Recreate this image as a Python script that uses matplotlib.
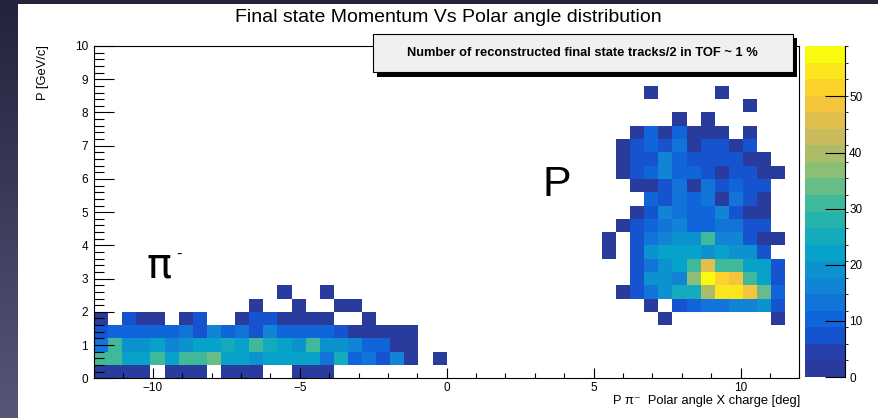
import numpy as np
import matplotlib.pyplot as plt
from matplotlib.colors import LinearSegmentedColormap, ListedColormap, BoundaryNorm
from matplotlib.patches import Rectangle

plt.rcParams['font.family'] = ['Liberation Sans', 'DejaVu Sans']

W, H = 879, 418

# binning of the 2D histogram
x_lo, x_hi, nx = -12.0, 12.0, 50
y_lo, y_hi, ny = 0.0, 10.0, 25
z_max = 59
n_contours = 20

# pi- entries: rows are momentum bins 0..6, columns are angle bins 0..24
pim_counts = [
    [1, 1, 1, 1, 0, 1, 1, 1, 0, 1, 1, 1, 0, 0, 1, 1, 1, 0, 0, 0, 0, 0, 0, 0, 0],
    [30, 30, 22, 21, 32, 21, 30, 30, 34, 22, 22, 19, 22, 22, 22, 21, 13, 24, 10, 13, 7, 16, 1, 0, 1],
    [13, 30, 19, 19, 22, 16, 19, 21, 21, 26, 22, 30, 26, 21, 19, 30, 19, 19, 16, 10, 10, 1, 1, 0, 0],
    [7, 10, 10, 10, 10, 10, 13, 7, 16, 10, 13, 7, 16, 10, 10, 10, 10, 7, 1, 1, 1, 1, 1, 0, 0],
    [1, 0, 7, 1, 1, 0, 1, 7, 0, 0, 1, 7, 7, 1, 1, 1, 1, 0, 0, 1, 0, 0, 0, 0, 0],
    [0, 0, 0, 0, 0, 0, 0, 0, 0, 0, 0, 1, 0, 0, 1, 0, 0, 1, 1, 0, 0, 0, 0, 0, 0],
    [0, 0, 0, 0, 0, 0, 0, 0, 0, 0, 0, 0, 0, 1, 0, 0, 1, 0, 0, 0, 0, 0, 0, 0, 0],
]
pim_row0, pim_col0 = 0, 0

# proton entries: rows are momentum bins 4..21, columns are angle bins 36..48
p_counts = [
    [0, 0, 0, 0, 1, 0, 0, 0, 0, 0, 0, 0, 1],
    [0, 0, 0, 1, 0, 7, 10, 13, 13, 16, 16, 19, 7],
    [0, 1, 7, 13, 19, 26, 26, 41, 55, 55, 49, 34, 10],
    [0, 0, 7, 19, 19, 16, 37, 59, 52, 49, 30, 22, 7],
    [0, 0, 7, 13, 19, 21, 30, 46, 30, 30, 22, 22, 7],
    [1, 0, 7, 19, 21, 22, 22, 19, 22, 19, 19, 7, 0],
    [1, 0, 7, 13, 16, 19, 19, 30, 16, 16, 7, 1, 1],
    [0, 1, 7, 10, 13, 16, 10, 10, 13, 13, 7, 7, 0],
    [0, 0, 1, 7, 16, 13, 10, 10, 16, 7, 1, 1, 0],
    [0, 0, 0, 10, 7, 13, 10, 13, 1, 13, 7, 1, 0],
    [0, 0, 1, 1, 7, 13, 1, 13, 7, 10, 7, 7, 0],
    [0, 1, 7, 10, 16, 10, 10, 7, 1, 7, 7, 1, 1],
    [0, 1, 7, 7, 16, 10, 7, 7, 7, 7, 1, 1, 0],
    [0, 1, 7, 10, 7, 13, 1, 7, 7, 1, 7, 0, 0],
    [0, 0, 1, 10, 1, 10, 1, 1, 1, 0, 1, 0, 0],
    [0, 0, 0, 0, 0, 1, 0, 1, 0, 0, 0, 0, 0],
    [0, 0, 0, 0, 0, 0, 0, 0, 0, 0, 1, 0, 0],
    [0, 0, 0, 1, 0, 0, 0, 0, 1, 0, 0, 0, 0],
]
p_row0, p_col0 = 4, 36

counts = np.zeros((ny, nx))
a = np.array(pim_counts)
counts[pim_row0:pim_row0 + a.shape[0], pim_col0:pim_col0 + a.shape[1]] = a
a = np.array(p_counts)
counts[p_row0:p_row0 + a.shape[0], p_col0:p_col0 + a.shape[1]] = a
counts = np.ma.masked_equal(counts, 0)

x_edges = np.linspace(x_lo, x_hi, nx + 1)
y_edges = np.linspace(y_lo, y_hi, ny + 1)

# ROOT kBird palette
bird_stops = [0.0, 0.125, 0.25, 0.375, 0.5, 0.625, 0.75, 0.875, 1.0]
bird_r = [0.2082, 0.0592, 0.0780, 0.0232, 0.1802, 0.5301, 0.8186, 0.9956, 0.9764]
bird_g = [0.1664, 0.3599, 0.5041, 0.6419, 0.7178, 0.7492, 0.7328, 0.7862, 0.9832]
bird_b = [0.5293, 0.8684, 0.8385, 0.7914, 0.6425, 0.4662, 0.3499, 0.1968, 0.0539]
bird = LinearSegmentedColormap.from_list(
    'bird', list(zip(bird_stops, zip(bird_r, bird_g, bird_b))))
band_colors = bird(np.arange(n_contours) / (n_contours - 1))
band_colors[0] = (0.16, 0.23, 0.61, 1.0)
cmap = ListedColormap(band_colors)
cmap.set_over(band_colors[-1])
norm = BoundaryNorm(np.linspace(0, z_max, n_contours + 1), n_contours)

fig = plt.figure(figsize=(W / 100, H / 100), dpi=100)

# dark window frame + white canvas
bg = fig.add_axes([0, 0, 1, 1])
grad = np.linspace(0, 1, 100)[:, None]
bg.imshow(grad, aspect='auto', extent=[0, 1, 0, 1], origin='upper',
          cmap=LinearSegmentedColormap.from_list('frame', ['#23233c', '#55557a']))
bg.add_patch(Rectangle((18 / W, 0), 1 - 18 / W, 1 - 4 / H, color='white', lw=0))
bg.set_xlim(0, 1)
bg.set_ylim(0, 1)
bg.axis('off')


def px(x0, y0, x1, y1):
    return [x0 / W, 1 - y1 / H, (x1 - x0) / W, (y1 - y0) / H]


ax = fig.add_axes(px(94, 46, 799.4, 378.3))
mesh = ax.pcolormesh(x_edges, y_edges, counts, cmap=cmap, norm=norm)
ax.set_xlim(x_lo, x_hi)
ax.set_ylim(y_lo, y_hi)
ax.set_xticks([-10, -5, 0, 5, 10])
ax.set_xticks(np.arange(-12, 13, 1), minor=True)
ax.set_yticks(np.arange(0, 11, 1))
ax.set_yticks(np.arange(0, 10.01, 0.2), minor=True)
ax.tick_params(axis='x', which='major', direction='in', length=7.5, width=0.8, labelsize=8.5, pad=2.5)
ax.tick_params(axis='x', which='minor', direction='in', length=3.6, width=0.8)
ax.tick_params(axis='y', which='major', direction='in', length=14.4, width=0.8, labelsize=8.5, pad=4.3)
ax.tick_params(axis='y', which='minor', direction='in', length=7.2, width=0.8)
for s in ax.spines.values():
    s.set_linewidth(0.8)

# palette axis
cax = fig.add_axes(px(805, 46, 845, 377))
cb = fig.colorbar(mesh, cax=cax, ticks=range(0, 60, 10))
cb.outline.set_visible(False)
cax.plot([1, 1], [0, 1], transform=cax.transAxes, color='black', lw=0.8, clip_on=False)
cax.yaxis.set_ticks_position('right')
cax.tick_params(direction='in', length=14.4, width=0.8, labelsize=8.5, pad=3)

fig.text(448 / W, 1 - 18 / H, 'Final state Momentum Vs Polar angle distribution',
         ha='center', va='center', fontsize=14)
fig.text(43 / W, 1 - 45 / H, 'P [GeV/c]', rotation=90, ha='center', va='top', fontsize=9.3)
fig.text(800 / W, 1 - 401 / H, 'P \u03c0\u207b  Polar angle X charge [deg]',
         ha='right', va='center', fontsize=9.3)

# info box with drop shadow, drawn above the frame
fig.add_artist(Rectangle((377 / W, 1 - 76.5 / H), 420 / W, 38 / H, transform=fig.transFigure,
                         facecolor='black', lw=0, zorder=5))
fig.add_artist(Rectangle((373 / W, 1 - 72 / H), 420 / W, 38 / H, transform=fig.transFigure,
                         facecolor='#f0f0f0', edgecolor='black', lw=0.8, zorder=6))
fig.text(582 / W, 1 - 53 / H, 'Number of reconstructed final state tracks/2 in TOF ~ 1 %',
         ha='center', va='center', fontsize=9.3, fontweight='bold', zorder=10)

# particle labels
fig.text(147 / W, 1 - 278 / H, '\u03c0', ha='left', va='baseline', fontsize=30,
         family='DejaVu Sans')
fig.text(176 / W, 1 - 254 / H, '-', ha='left', va='center', fontsize=12)
fig.text(542 / W, 1 - 196 / H, 'P', ha='left', va='baseline', fontsize=31)

fig.savefig('out.png', dpi=100)
